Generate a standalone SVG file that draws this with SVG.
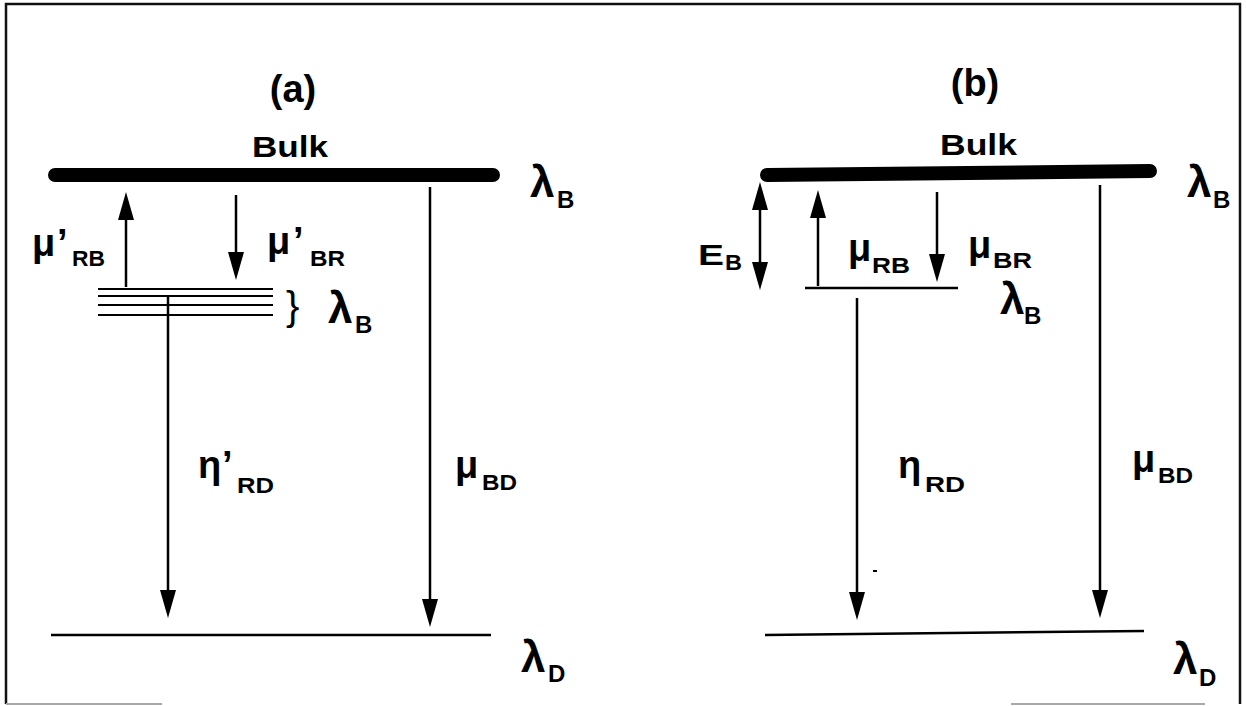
<svg xmlns="http://www.w3.org/2000/svg" width="1246" height="706" viewBox="0 0 1246 706">
<style>
.t{font-family:"Liberation Sans",Arial,sans-serif;font-weight:bold;fill:#000}
.g{font-size:38px}
.l{font-size:44px}
.s{font-size:22px}
.sl{font-size:24px}
.ln{stroke:#000;stroke-width:2.5;fill:none}
.thin{stroke:#000;stroke-width:2;fill:none}
.bar{stroke:#000;stroke-width:14;stroke-linecap:round;fill:none}
.ar{stroke:#000;stroke-width:2.5;fill:none;marker-end:url(#ah)}
</style>
<defs>
<marker id="ah" viewBox="0 0 28 16" refX="18" refY="8" markerWidth="28" markerHeight="16" markerUnits="userSpaceOnUse" orient="auto-start-reverse">
<path d="M0,0 L28,8 L0,16 z" fill="#000"/>
</marker>
</defs>
<rect width="1246" height="706" fill="#fff"/>
<g id="frame">
<path d="M6,704 V4 H1240 V704" stroke="#111" stroke-width="2.5" fill="none"/>
<path d="M6,704 H162 M1011,704 H1205" stroke="#aaa" stroke-width="2" fill="none"/>
</g>
<g id="panel-a">
<text class="t" x="293" y="102" font-size="38" text-anchor="middle">(a)</text>
<g id="bulk-a">
<line class="bar" x1="55" y1="175" x2="493" y2="175"/>
<text class="t" x="252" y="157" font-size="30" textLength="76" lengthAdjust="spacingAndGlyphs">Bulk</text>
<text class="t l" x="530" y="197">λ</text><text class="t sl" x="557" y="208">B</text>
</g>
<g id="levels-a">
<line class="thin" x1="98" y1="289" x2="273" y2="289"/>
<line class="thin" x1="98" y1="296" x2="273" y2="296"/>
<line class="thin" x1="98" y1="305" x2="273" y2="305"/>
<line class="thin" x1="98" y1="315" x2="273" y2="315"/>
<text x="286" y="320" font-family="Liberation Sans,Arial,sans-serif" font-size="40">}</text>
<text class="t l" x="328" y="323">λ</text><text class="t sl" x="355" y="333">B</text>
</g>
<g id="deep-a">
<line class="ln" x1="51" y1="635" x2="491" y2="635"/>
<text class="t l" x="521" y="672">λ</text><text class="t sl" x="548" y="682">D</text>
</g>
</g>
<g id="panel-b">
<text class="t" x="975" y="96" font-size="38" text-anchor="middle">(b)</text>
<g id="bulk-b">
<line class="bar" x1="767" y1="175" x2="1150" y2="171"/>
<text class="t" x="940" y="155" font-size="30" textLength="77" lengthAdjust="spacingAndGlyphs">Bulk</text>
<text class="t l" x="1187" y="197">λ</text><text class="t sl" x="1213" y="208">B</text>
</g>
<g id="level-b">
<line class="ln" x1="805" y1="288" x2="958" y2="288"/>
<text class="t l" x="1000" y="314">λ</text><text class="t sl" x="1024" y="324">B</text>
</g>
<g id="deep-b">
<line class="ln" x1="765" y1="635" x2="1144" y2="631"/>
<text class="t l" x="1173" y="674">λ</text><text class="t sl" x="1199" y="686">D</text>
</g>
<rect x="873" y="570" width="4" height="2" fill="#000"/>
</g>
<g id="connectors">
<line class="ar" x1="126" y1="287" x2="126" y2="202"/>
<line class="ar" x1="236" y1="195" x2="236" y2="270"/>
<line class="ar" x1="168" y1="295" x2="168" y2="608"/>
<line class="ar" x1="430" y1="187" x2="430" y2="617"/>
<line class="ar" x1="760" y1="192" x2="760" y2="280" style="marker-start:url(#ah)"/>
<line class="ar" x1="818" y1="286" x2="818" y2="200"/>
<line class="ar" x1="937" y1="192" x2="937" y2="272"/>
<line class="ar" x1="857" y1="298" x2="857" y2="610"/>
<line class="ar" x1="1100" y1="185" x2="1100" y2="608"/>
</g>
<g id="labels">
<text class="t g" x="32" y="256">μ</text><text class="t g" x="57" y="256">’</text><text class="t s" x="72" y="266" textLength="33" lengthAdjust="spacingAndGlyphs">RB</text>
<text class="t g" x="267" y="254">μ</text><text class="t g" x="293" y="254">’</text><text class="t s" x="310" y="266" textLength="35" lengthAdjust="spacingAndGlyphs">BR</text>
<text class="t g" x="198" y="478">η</text><text class="t g" x="222" y="478">’</text><text class="t s" x="237" y="493" textLength="37" lengthAdjust="spacingAndGlyphs">RD</text>
<text class="t g" x="455" y="478">μ</text><text class="t s" x="482" y="490" textLength="35" lengthAdjust="spacingAndGlyphs">BD</text>
<text class="t" x="698" y="265" font-size="29" textLength="26" lengthAdjust="spacingAndGlyphs">E</text><text class="t s" x="725" y="270" textLength="17" lengthAdjust="spacingAndGlyphs">B</text>
<text class="t g" x="848" y="261">μ</text><text class="t s" x="872" y="273" textLength="38" lengthAdjust="spacingAndGlyphs">RB</text>
<text class="t g" x="968" y="258">μ</text><text class="t s" x="993" y="268" textLength="39" lengthAdjust="spacingAndGlyphs">BR</text>
<text class="t g" x="898" y="478">η</text><text class="t s" x="925" y="492" textLength="40" lengthAdjust="spacingAndGlyphs">RD</text>
<text class="t g" x="1132" y="472">μ</text><text class="t s" x="1158" y="483" textLength="35" lengthAdjust="spacingAndGlyphs">BD</text>
</g>
</svg>
